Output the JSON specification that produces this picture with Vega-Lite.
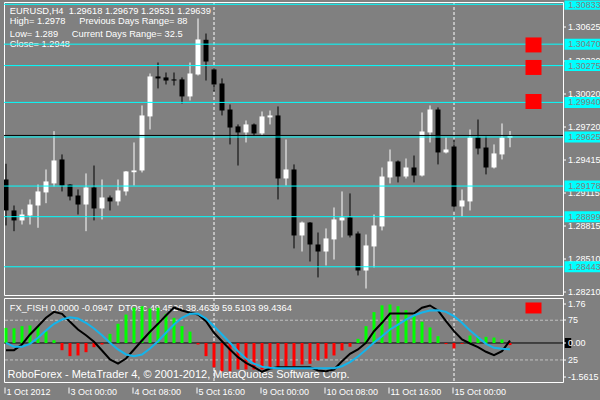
{
 "$schema": "https://vega.github.io/schema/vega-lite/v6.json",
 "background": "#808080",
 "padding": {"left": 1, "top": 0, "right": 0, "bottom": 8},
 "bounds": "flush",
 "spacing": 3,
 "config": {
  "view": {"stroke": "#ffffff", "strokeWidth": 1, "fill": "#808080"},
  "scale": {"continuousPadding": 0},
  "axis": {"labelFont": "Liberation Sans", "labelFontSize": 9, "labelColor": "#ffffff", "tickColor": "#ffffff", "tickWidth": 1, "domain": false, "grid": false, "labelOverlap": false, "labelFlush": false, "labelBound": false, "translate": 0},
  "text": {"font": "Liberation Sans", "fontSize": 9.3, "color": "#ffffff", "align": "left", "baseline": "middle"}
 },
 "datasets": {
  "candles": [
   {"i":0,"o":1.29238,"h":1.29381,"l":1.28819,"c":1.28956,"dir":"down"},
   {"i":1,"o":1.28956,"h":1.29001,"l":1.28767,"c":1.28865,"dir":"down"},
   {"i":2,"o":1.28865,"h":1.28965,"l":1.28828,"c":1.28919,"dir":"up"},
   {"i":3,"o":1.28910,"h":1.29056,"l":1.28828,"c":1.29010,"dir":"up"},
   {"i":4,"o":1.29001,"h":1.29192,"l":1.28798,"c":1.29129,"dir":"up"},
   {"i":5,"o":1.29120,"h":1.29329,"l":1.29022,"c":1.29220,"dir":"up"},
   {"i":6,"o":1.29202,"h":1.29678,"l":1.29174,"c":1.29411,"dir":"up"},
   {"i":7,"o":1.29420,"h":1.29466,"l":1.29129,"c":1.29183,"dir":"down"},
   {"i":8,"o":1.29192,"h":1.29195,"l":1.29047,"c":1.29083,"dir":"down"},
   {"i":9,"o":1.29092,"h":1.29147,"l":1.28919,"c":1.29010,"dir":"down"},
   {"i":10,"o":1.29010,"h":1.29293,"l":1.28767,"c":1.29165,"dir":"up"},
   {"i":11,"o":1.29165,"h":1.29365,"l":1.28865,"c":1.28974,"dir":"down"},
   {"i":12,"o":1.28974,"h":1.29238,"l":1.28874,"c":1.29074,"dir":"up"},
   {"i":13,"o":1.29074,"h":1.29092,"l":1.28956,"c":1.29038,"dir":"down"},
   {"i":14,"o":1.29038,"h":1.29238,"l":1.29001,"c":1.29138,"dir":"up"},
   {"i":15,"o":1.29129,"h":1.29315,"l":1.29092,"c":1.29311,"dir":"up"},
   {"i":16,"o":1.29304,"h":1.29575,"l":1.29183,"c":1.29320,"dir":"up"},
   {"i":17,"o":1.29320,"h":1.29912,"l":1.29302,"c":1.29821,"dir":"up"},
   {"i":18,"o":1.29812,"h":1.30203,"l":1.29693,"c":1.30176,"dir":"up"},
   {"i":19,"o":1.30176,"h":1.30303,"l":1.30067,"c":1.30158,"dir":"down"},
   {"i":20,"o":1.30167,"h":1.30212,"l":1.30103,"c":1.30139,"dir":"down"},
   {"i":21,"o":1.30149,"h":1.30212,"l":1.30094,"c":1.30139,"dir":"down"},
   {"i":22,"o":1.30149,"h":1.30167,"l":1.29930,"c":1.29994,"dir":"down"},
   {"i":23,"o":1.29994,"h":1.30303,"l":1.29957,"c":1.30203,"dir":"up"},
   {"i":24,"o":1.30194,"h":1.30704,"l":1.30185,"c":1.30513,"dir":"up"},
   {"i":25,"o":1.30510,"h":1.30567,"l":1.30139,"c":1.30312,"dir":"down"},
   {"i":26,"o":1.30240,"h":1.30258,"l":1.30039,"c":1.30103,"dir":"down"},
   {"i":27,"o":1.30112,"h":1.30158,"l":1.29821,"c":1.29866,"dir":"down"},
   {"i":28,"o":1.29875,"h":1.29921,"l":1.29557,"c":1.29711,"dir":"down"},
   {"i":29,"o":1.29721,"h":1.29739,"l":1.29365,"c":1.29666,"dir":"down"},
   {"i":30,"o":1.29666,"h":1.29775,"l":1.29575,"c":1.29739,"dir":"up"},
   {"i":31,"o":1.29739,"h":1.29748,"l":1.29639,"c":1.29657,"dir":"down"},
   {"i":32,"o":1.29657,"h":1.29857,"l":1.29639,"c":1.29812,"dir":"up"},
   {"i":33,"o":1.29803,"h":1.29866,"l":1.29739,"c":1.29821,"dir":"up"},
   {"i":34,"o":1.29821,"h":1.29903,"l":1.29056,"c":1.29247,"dir":"down"},
   {"i":35,"o":1.29247,"h":1.29602,"l":1.29183,"c":1.29329,"dir":"up"},
   {"i":36,"o":1.29329,"h":1.29375,"l":1.28610,"c":1.28728,"dir":"down"},
   {"i":37,"o":1.28728,"h":1.28855,"l":1.28582,"c":1.28846,"dir":"up"},
   {"i":38,"o":1.28846,"h":1.28850,"l":1.28491,"c":1.28646,"dir":"down"},
   {"i":39,"o":1.28646,"h":1.28755,"l":1.28346,"c":1.28582,"dir":"down"},
   {"i":40,"o":1.28582,"h":1.28792,"l":1.28455,"c":1.28701,"dir":"up"},
   {"i":41,"o":1.28692,"h":1.28983,"l":1.28509,"c":1.28874,"dir":"up"},
   {"i":42,"o":1.28865,"h":1.29129,"l":1.28710,"c":1.28892,"dir":"up"},
   {"i":43,"o":1.28892,"h":1.29111,"l":1.28710,"c":1.28728,"dir":"down"},
   {"i":44,"o":1.28746,"h":1.28764,"l":1.28364,"c":1.28409,"dir":"down"},
   {"i":45,"o":1.28409,"h":1.28737,"l":1.28245,"c":1.28637,"dir":"up"},
   {"i":46,"o":1.28628,"h":1.28919,"l":1.28437,"c":1.28819,"dir":"up"},
   {"i":47,"o":1.28810,"h":1.29347,"l":1.28774,"c":1.29265,"dir":"up"},
   {"i":48,"o":1.29256,"h":1.29511,"l":1.29202,"c":1.29402,"dir":"up"},
   {"i":49,"o":1.29402,"h":1.29411,"l":1.29211,"c":1.29265,"dir":"down"},
   {"i":50,"o":1.29265,"h":1.29429,"l":1.29247,"c":1.29347,"dir":"up"},
   {"i":51,"o":1.29347,"h":1.29456,"l":1.29211,"c":1.29274,"dir":"down"},
   {"i":52,"o":1.29274,"h":1.29848,"l":1.29265,"c":1.29675,"dir":"up"},
   {"i":53,"o":1.29666,"h":1.29912,"l":1.29575,"c":1.29875,"dir":"up"},
   {"i":54,"o":1.29875,"h":1.29894,"l":1.29375,"c":1.29484,"dir":"down"},
   {"i":55,"o":1.29484,"h":1.29620,"l":1.29475,"c":1.29511,"dir":"up"},
   {"i":56,"o":1.29538,"h":1.29602,"l":1.28956,"c":1.28992,"dir":"down"},
   {"i":57,"o":1.28992,"h":1.29147,"l":1.28901,"c":1.29047,"dir":"up"},
   {"i":58,"o":1.29038,"h":1.29693,"l":1.28956,"c":1.29620,"dir":"up"},
   {"i":59,"o":1.29620,"h":1.29784,"l":1.29466,"c":1.29520,"dir":"down"},
   {"i":60,"o":1.29529,"h":1.29630,"l":1.29284,"c":1.29347,"dir":"down"},
   {"i":61,"o":1.29347,"h":1.29557,"l":1.29338,"c":1.29475,"dir":"up"},
   {"i":62,"o":1.29466,"h":1.29748,"l":1.29420,"c":1.29620,"dir":"up"},
   {"i":63,"o":1.29618,"h":1.29679,"l":1.29531,"c":1.29639,"dir":"up"}
  ],
  "osc": [
   {"i":0,"fish":0.69,"main":37.3,"signal":46.6},
   {"i":1,"fish":0.67,"main":37.3,"signal":41.6},
   {"i":2,"fish":0.77,"main":44.5,"signal":41.6},
   {"i":3,"fish":0.80,"main":57.1,"signal":45.3},
   {"i":4,"fish":0.77,"main":67.5,"signal":52.9},
   {"i":5,"fish":0.53,"main":78.1,"signal":62.1},
   {"i":6,"fish":0.13,"main":85.6,"signal":70.5},
   {"i":7,"fish":-0.33,"main":83.1,"signal":75.9},
   {"i":8,"fish":-0.60,"main":73.0,"signal":78.8},
   {"i":9,"fish":-0.57,"main":63.4,"signal":77.2},
   {"i":10,"fish":-0.42,"main":56.2,"signal":71.8},
   {"i":11,"fish":-0.19,"main":47.9,"signal":64.6},
   {"i":12,"fish":-0.07,"main":36.9,"signal":56.2},
   {"i":13,"fish":0.42,"main":25.6,"signal":46.6},
   {"i":14,"fish":0.88,"main":20.5,"signal":38.2},
   {"i":15,"fish":1.30,"main":26.8,"signal":31.9},
   {"i":16,"fish":1.61,"main":38.2,"signal":29.7},
   {"i":17,"fish":1.68,"main":49.5,"signal":31.9},
   {"i":18,"fish":1.58,"main":60.5,"signal":39.4},
   {"i":19,"fish":1.61,"main":70.5,"signal":48.6},
   {"i":20,"fish":1.33,"main":81.0,"signal":59.2},
   {"i":21,"fish":1.15,"main":91.1,"signal":69.6},
   {"i":22,"fish":0.77,"main":87.3,"signal":78.1},
   {"i":23,"fish":0.52,"main":84.4,"signal":83.1},
   {"i":24,"fish":-0.07,"main":82.2,"signal":83.1},
   {"i":25,"fish":-0.60,"main":73.8,"signal":77.2},
   {"i":26,"fish":-1.11,"main":59.2,"signal":67.5},
   {"i":27,"fish":-1.29,"main":48.6,"signal":57.1},
   {"i":28,"fish":-1.29,"main":38.2,"signal":46.6},
   {"i":29,"fish":-1.21,"main":28.5,"signal":36.0},
   {"i":30,"fish":-1.21,"main":21.4,"signal":26.8},
   {"i":31,"fish":-1.21,"main":15.9,"signal":20.2},
   {"i":32,"fish":-1.21,"main":10.1,"signal":16.4},
   {"i":33,"fish":-1.13,"main":14.2,"signal":15.1},
   {"i":34,"fish":-1.11,"main":15.9,"signal":14.6},
   {"i":35,"fish":-1.06,"main":15.9,"signal":14.6},
   {"i":36,"fish":-1.06,"main":15.9,"signal":14.6},
   {"i":37,"fish":-0.98,"main":15.9,"signal":14.6},
   {"i":38,"fish":-0.95,"main":15.9,"signal":14.6},
   {"i":39,"fish":-0.80,"main":11.7,"signal":14.6},
   {"i":40,"fish":-0.71,"main":10.8,"signal":14.6},
   {"i":41,"fish":-0.57,"main":13.0,"signal":14.6},
   {"i":42,"fish":-0.34,"main":23.4,"signal":17.1},
   {"i":43,"fish":-0.17,"main":32.7,"signal":22.2},
   {"i":44,"fish":0.19,"main":38.2,"signal":29.3},
   {"i":45,"fish":0.77,"main":46.6,"signal":37.8},
   {"i":46,"fish":1.41,"main":61.2,"signal":47.0},
   {"i":47,"fish":1.72,"main":71.8,"signal":54.9},
   {"i":48,"fish":1.76,"main":83.5,"signal":63.4},
   {"i":49,"fish":1.68,"main":83.5,"signal":69.6},
   {"i":50,"fish":1.50,"main":83.5,"signal":75.9},
   {"i":51,"fish":1.27,"main":83.5,"signal":81.0},
   {"i":52,"fish":0.97,"main":90.7,"signal":84.8},
   {"i":53,"fish":0.71,"main":93.6,"signal":87.3},
   {"i":54,"fish":0.31,"main":87.3,"signal":87.7},
   {"i":55,"fish":-0.05,"main":73.8,"signal":85.6},
   {"i":56,"fish":-0.25,"main":61.2,"signal":80.1},
   {"i":57,"fish":-0.04,"main":50.8,"signal":71.8},
   {"i":58,"fish":0.34,"main":45.7,"signal":62.1},
   {"i":59,"fish":0.31,"main":41.1,"signal":53.7},
   {"i":60,"fish":0.28,"main":35.3,"signal":45.3},
   {"i":61,"fish":0.25,"main":31.0,"signal":40.3},
   {"i":62,"fish":0.16,"main":36.0,"signal":39.0},
   {"i":63,"fish":-0.0947,"main":49.4526,"signal":38.4639}
  ],
  "levels": [{"price":1.30833},{"price":1.30470},{"price":1.30275},{"price":1.29940},{"price":1.29625},{"price":1.29178},{"price":1.28899},{"price":1.28443}],
  "signals": [{"price":1.30463},{"price":1.30258},{"price":1.29948}],
  "quote": [{"bid":1.29639}],
  "separators": [{"i":26},{"i":56}]
 },
 "vconcat": [
  {
   "width": 559,
   "height": 293,
   "layer": [
    {"data": {"name": "separators"}, "mark": {"type": "rule", "color": "#ffffff", "strokeDash": [3, 2]},
     "encoding": {"x": {"field": "i", "type": "quantitative", "scale": {"domain": [-0.25, 69.625], "nice": false, "zero": false, "padding": 0}, "axis": null}}},
    {"data": {"name": "candles"}, "mark": {"type": "rule", "strokeWidth": 1, "clip": true},
     "encoding": {
      "x": {"field": "i", "type": "quantitative", "axis": null},
      "y": {"field": "l", "type": "quantitative", "scale": {"domain": [1.28186, 1.30854], "nice": false, "zero": false, "clamp": true, "padding": 0},
            "axis": {"orient": "right", "title": null, "values": [1.30625, 1.3032, 1.3002, 1.2972, 1.29415, 1.29115, 1.28815, 1.2851, 1.2821], "format": ".5f", "tickSize": 3, "labelPadding": 2}},
      "y2": {"field": "h"},
      "color": {"field": "dir", "type": "nominal", "scale": {"domain": ["up", "down"], "range": ["#ffffff", "#000000"]}, "legend": null}}},
    {"data": {"name": "candles"}, "mark": {"type": "bar", "width": 5, "clip": true},
     "encoding": {
      "x": {"field": "i", "type": "quantitative", "axis": null},
      "y": {"field": "o", "type": "quantitative", "axis": {"orient": "right", "title": null, "values": [1.30625, 1.3032, 1.3002, 1.2972, 1.29415, 1.29115, 1.28815, 1.2851, 1.2821], "format": ".5f", "tickSize": 3, "labelPadding": 2}},
      "y2": {"field": "c"},
      "color": {"field": "dir", "type": "nominal", "legend": null}}},
    {"data": {"values": [{}]}, "mark": {"type": "text", "text": "EURUSD,H4\u00a0\u00a01.29618 1.29679 1.29531 1.29639"},
     "encoding": {"x": {"datum": 0.475, "type": "quantitative", "axis": null}, "y": {"datum": 1.30768, "type": "quantitative", "axis": {"orient": "right", "title": null, "values": [1.30625, 1.3032, 1.3002, 1.2972, 1.29415, 1.29115, 1.28815, 1.2851, 1.2821], "format": ".5f", "tickSize": 3, "labelPadding": 2}}}},
    {"data": {"values": [{}]}, "mark": {"type": "text", "text": "High= 1.2978"},
     "encoding": {"x": {"datum": 0.475, "type": "quantitative", "axis": null}, "y": {"datum": 1.30679, "type": "quantitative", "axis": {"orient": "right", "title": null, "values": [1.30625, 1.3032, 1.3002, 1.2972, 1.29415, 1.29115, 1.28815, 1.2851, 1.2821], "format": ".5f", "tickSize": 3, "labelPadding": 2}}}},
    {"data": {"values": [{}]}, "mark": {"type": "text", "text": "Low= 1.289"},
     "encoding": {"x": {"datum": 0.475, "type": "quantitative", "axis": null}, "y": {"datum": 1.30567, "type": "quantitative", "axis": {"orient": "right", "title": null, "values": [1.30625, 1.3032, 1.3002, 1.2972, 1.29415, 1.29115, 1.28815, 1.2851, 1.2821], "format": ".5f", "tickSize": 3, "labelPadding": 2}}}},
    {"data": {"values": [{}]}, "mark": {"type": "text", "text": "Close= 1.2948"},
     "encoding": {"x": {"datum": 0.475, "type": "quantitative", "axis": null}, "y": {"datum": 1.3047, "type": "quantitative", "axis": {"orient": "right", "title": null, "values": [1.30625, 1.3032, 1.3002, 1.2972, 1.29415, 1.29115, 1.28815, 1.2851, 1.2821], "format": ".5f", "tickSize": 3, "labelPadding": 2}}}},
    {"data": {"values": [{}]}, "mark": {"type": "text", "text": "Previous Days Range= 88"},
     "encoding": {"x": {"datum": 9.15, "type": "quantitative", "axis": null}, "y": {"datum": 1.30679, "type": "quantitative", "axis": {"orient": "right", "title": null, "values": [1.30625, 1.3032, 1.3002, 1.2972, 1.29415, 1.29115, 1.28815, 1.2851, 1.2821], "format": ".5f", "tickSize": 3, "labelPadding": 2}}}},
    {"data": {"values": [{}]}, "mark": {"type": "text", "text": "Current Days Range= 32.5"},
     "encoding": {"x": {"datum": 8.225, "type": "quantitative", "axis": null}, "y": {"datum": 1.30567, "type": "quantitative", "axis": {"orient": "right", "title": null, "values": [1.30625, 1.3032, 1.3002, 1.2972, 1.29415, 1.29115, 1.28815, 1.2851, 1.2821], "format": ".5f", "tickSize": 3, "labelPadding": 2}}}},
    {"data": {"name": "levels"}, "mark": {"type": "rule", "color": "#00ffff", "strokeWidth": 1},
     "encoding": {"y": {"field": "price", "type": "quantitative", "axis": {"orient": "right", "title": null, "values": [1.30625, 1.3032, 1.3002, 1.2972, 1.29415, 1.29115, 1.28815, 1.2851, 1.2821], "format": ".5f", "tickSize": 3, "labelPadding": 2}}}},
    {"data": {"name": "quote"}, "mark": {"type": "rule", "color": "#000000", "strokeWidth": 1},
     "encoding": {"y": {"field": "bid", "type": "quantitative", "axis": {"orient": "right", "title": null, "values": [1.30625, 1.3032, 1.3002, 1.2972, 1.29415, 1.29115, 1.28815, 1.2851, 1.2821], "format": ".5f", "tickSize": 3, "labelPadding": 2}}}},
    {"data": {"name": "signals"}, "mark": {"type": "point", "shape": "M-1,-0.9375H1V0.9375H-1Z", "size": 256, "filled": true, "color": "#ff0000", "opacity": 1, "strokeWidth": 0},
     "encoding": {"x": {"datum": 65.9375, "type": "quantitative", "axis": null}, "y": {"field": "price", "type": "quantitative", "axis": {"orient": "right", "title": null, "values": [1.30625, 1.3032, 1.3002, 1.2972, 1.29415, 1.29115, 1.28815, 1.2851, 1.2821], "format": ".5f", "tickSize": 3, "labelPadding": 2}}}},
    {"data": {"name": "levels"}, "transform": [{"filter": "datum.price < 1.308"}],
     "mark": {"type": "point", "shape": "M-1,-0.275H1V0.275H-1Z", "size": 1600, "filled": true, "color": "#00ffff", "opacity": 1, "strokeWidth": 0},
     "encoding": {"x": {"datum": 72.3125, "type": "quantitative", "axis": null}, "y": {"field": "price", "type": "quantitative", "axis": {"orient": "right", "title": null, "values": [1.30625, 1.3032, 1.3002, 1.2972, 1.29415, 1.29115, 1.28815, 1.2851, 1.2821], "format": ".5f", "tickSize": 3, "labelPadding": 2}}}},
    {"data": {"name": "levels"}, "transform": [{"filter": "datum.price >= 1.308"}],
     "mark": {"type": "point", "shape": "M-1,-0.19H1V0.275H-1Z", "size": 1600, "filled": true, "color": "#00ffff", "opacity": 1, "strokeWidth": 0},
     "encoding": {"x": {"datum": 72.3125, "type": "quantitative", "axis": null}, "y": {"field": "price", "type": "quantitative", "axis": {"orient": "right", "title": null, "values": [1.30625, 1.3032, 1.3002, 1.2972, 1.29415, 1.29115, 1.28815, 1.2851, 1.2821], "format": ".5f", "tickSize": 3, "labelPadding": 2}}}},
    {"data": {"name": "levels"}, "transform": [{"filter": "datum.price < 1.308"}],
     "mark": {"type": "text", "color": "#808080", "fontSize": 9},
     "encoding": {"x": {"datum": 70.275, "type": "quantitative", "axis": null}, "y": {"field": "price", "type": "quantitative", "axis": {"orient": "right", "title": null, "values": [1.30625, 1.3032, 1.3002, 1.2972, 1.29415, 1.29115, 1.28815, 1.2851, 1.2821], "format": ".5f", "tickSize": 3, "labelPadding": 2}}, "text": {"field": "price", "type": "quantitative", "format": ".5f"}}},
    {"data": {"name": "levels"}, "transform": [{"filter": "datum.price >= 1.308"}],
     "mark": {"type": "text", "color": "#808080", "fontSize": 9, "dy": 1},
     "encoding": {"x": {"datum": 70.275, "type": "quantitative", "axis": null}, "y": {"field": "price", "type": "quantitative", "axis": {"orient": "right", "title": null, "values": [1.30625, 1.3032, 1.3002, 1.2972, 1.29415, 1.29115, 1.28815, 1.2851, 1.2821], "format": ".5f", "tickSize": 3, "labelPadding": 2}}, "text": {"field": "price", "type": "quantitative", "format": ".5f"}}}
   ]
  },
  {
   "width": 559,
   "height": 84,
   "resolve": {"scale": {"y": "independent"}, "axis": {"y": "independent"}},
   "layer": [
    {"data": {"values": [{"level": 75}, {"level": 25}]}, "mark": {"type": "rule", "color": "#c0c0c0", "strokeDash": [3, 2]},
     "encoding": {"y": {"field": "level", "type": "quantitative", "scale": {"domain": [-2.77, 103.02], "nice": false, "zero": false}, "axis": null}}},
    {"layer": [
      {"data": {"name": "separators"}, "mark": {"type": "rule", "color": "#ffffff", "strokeDash": [3, 2]},
       "encoding": {"x": {"field": "i", "type": "quantitative", "scale": {"domain": [-0.25, 69.625], "nice": false, "zero": false, "padding": 0},
         "axis": {"orient": "bottom", "title": null, "values": [0, 8, 16, 24, 32, 40, 48, 56], "labelExpr": "['1 Oct 2012','3 Oct 00:00','4 Oct 08:00','5 Oct 16:00','9 Oct 00:00','10 Oct 08:00','11 Oct 16:00','15 Oct 00:00'][round(datum.value/8)]", "tickSize": 6, "offset": 5.5, "labelPadding": -6, "labelAlign": "left", "labelBaseline": "top", "tickOffset": -1, "labelOffset": 1.5}}}},
      {"data": {"values": [{}]}, "mark": {"type": "text", "text": "FX_FISH 0.0000 -0.0947\u00a0\u00a0DTOsc 49.4526 38.4639 59.5103 99.4364"},
       "encoding": {
        "x": {"datum": 0.475, "type": "quantitative", "axis": {"orient": "bottom", "title": null, "values": [0, 8, 16, 24, 32, 40, 48, 56], "labelExpr": "['1 Oct 2012','3 Oct 00:00','4 Oct 08:00','5 Oct 16:00','9 Oct 00:00','10 Oct 08:00','11 Oct 16:00','15 Oct 00:00'][round(datum.value/8)]", "tickSize": 6, "offset": 5.5, "labelPadding": -6, "labelAlign": "left", "labelBaseline": "top", "tickOffset": -1, "labelOffset": 1.5}},
        "y": {"datum": 1.608, "type": "quantitative", "scale": {"domain": [-1.782, 2.056], "nice": false, "zero": false, "padding": 0},
              "axis": {"orient": "right", "title": null, "values": [1.76, 0, -1.5615], "labelExpr": "datum.value == 0 ? '0.00' : (datum.value < 0 ? '-1.5615' : '1.76')", "tickSize": 3, "labelPadding": 2, "zindex": 1}}}},
      {"data": {"values": [{}]}, "mark": {"type": "text", "fontSize": 11, "text": "RoboForex - MetaTrader 4, © 2001-2012, MetaQuotes Software Corp."},
       "encoding": {
        "x": {"datum": 0.1875, "type": "quantitative", "axis": {"orient": "bottom", "title": null, "values": [0, 8, 16, 24, 32, 40, 48, 56], "labelExpr": "['1 Oct 2012','3 Oct 00:00','4 Oct 08:00','5 Oct 16:00','9 Oct 00:00','10 Oct 08:00','11 Oct 16:00','15 Oct 00:00'][round(datum.value/8)]", "tickSize": 6, "offset": 5.5, "labelPadding": -6, "labelAlign": "left", "labelBaseline": "top", "tickOffset": -1, "labelOffset": 1.5}},
        "y": {"datum": -1.485, "type": "quantitative", "axis": {"orient": "right", "title": null, "values": [1.76, 0, -1.5615], "labelExpr": "datum.value == 0 ? '0.00' : (datum.value < 0 ? '-1.5615' : '1.76')", "tickSize": 3, "labelPadding": 2, "zindex": 1}}}},
      {"data": {"values": [{}]}, "mark": {"type": "rule", "color": "#000000", "strokeWidth": 1},
       "encoding": {"y": {"datum": 0, "type": "quantitative", "axis": {"orient": "right", "title": null, "values": [1.76, 0, -1.5615], "labelExpr": "datum.value == 0 ? '0.00' : (datum.value < 0 ? '-1.5615' : '1.76')", "tickSize": 3, "labelPadding": 2, "zindex": 1}}}},
      {"data": {"name": "osc"}, "mark": {"type": "bar", "width": 3},
       "encoding": {
        "x": {"field": "i", "type": "quantitative", "axis": {"orient": "bottom", "title": null, "values": [0, 8, 16, 24, 32, 40, 48, 56], "labelExpr": "['1 Oct 2012','3 Oct 00:00','4 Oct 08:00','5 Oct 16:00','9 Oct 00:00','10 Oct 08:00','11 Oct 16:00','15 Oct 00:00'][round(datum.value/8)]", "tickSize": 6, "offset": 5.5, "labelPadding": -6, "labelAlign": "left", "labelBaseline": "top", "tickOffset": -1, "labelOffset": 1.5}},
        "y": {"field": "fish", "type": "quantitative", "axis": {"orient": "right", "title": null, "values": [1.76, 0, -1.5615], "labelExpr": "datum.value == 0 ? '0.00' : (datum.value < 0 ? '-1.5615' : '1.76')", "tickSize": 3, "labelPadding": 2, "zindex": 1}},
        "y2": {"datum": 0},
        "color": {"condition": {"test": "datum.fish >= 0", "value": "#00ff00"}, "value": "#ff0000"}}},
      {"data": {"values": [{}]}, "mark": {"type": "point", "shape": "M-1,-0.6875H1V0.6875H-1Z", "size": 256, "filled": true, "color": "#ff0000", "opacity": 1, "strokeWidth": 0},
       "encoding": {
        "x": {"datum": 65.9375, "type": "quantitative", "axis": {"orient": "bottom", "title": null, "values": [0, 8, 16, 24, 32, 40, 48, 56], "labelExpr": "['1 Oct 2012','3 Oct 00:00','4 Oct 08:00','5 Oct 16:00','9 Oct 00:00','10 Oct 08:00','11 Oct 16:00','15 Oct 00:00'][round(datum.value/8)]", "tickSize": 6, "offset": 5.5, "labelPadding": -6, "labelAlign": "left", "labelBaseline": "top", "tickOffset": -1, "labelOffset": 1.5}},
        "y": {"datum": 1.6, "type": "quantitative", "axis": {"orient": "right", "title": null, "values": [1.76, 0, -1.5615], "labelExpr": "datum.value == 0 ? '0.00' : (datum.value < 0 ? '-1.5615' : '1.76')", "tickSize": 3, "labelPadding": 2, "zindex": 1}}}},
      {"data": {"values": [{}]}, "mark": {"type": "point", "shape": "M-1,-1.5625H1V1.5625H-1Z", "size": 41, "filled": true, "color": "#000000", "opacity": 1, "strokeWidth": 0},
       "encoding": {
        "x": {"datum": 70.25, "type": "quantitative", "axis": {"orient": "bottom", "title": null, "values": [0, 8, 16, 24, 32, 40, 48, 56], "labelExpr": "['1 Oct 2012','3 Oct 00:00','4 Oct 08:00','5 Oct 16:00','9 Oct 00:00','10 Oct 08:00','11 Oct 16:00','15 Oct 00:00'][round(datum.value/8)]", "tickSize": 6, "offset": 5.5, "labelPadding": -6, "labelAlign": "left", "labelBaseline": "top", "tickOffset": -1, "labelOffset": 1.5}},
        "y": {"datum": 0, "type": "quantitative", "axis": {"orient": "right", "title": null, "values": [1.76, 0, -1.5615], "labelExpr": "datum.value == 0 ? '0.00' : (datum.value < 0 ? '-1.5615' : '1.76')", "tickSize": 3, "labelPadding": 2, "zindex": 1}}}}
    ]},
    {"data": {"name": "osc"}, "layer": [
      {"mark": {"type": "line", "color": "#000000", "strokeWidth": 2},
       "encoding": {"x": {"field": "i", "type": "quantitative", "axis": {"orient": "bottom", "title": null, "values": [0, 8, 16, 24, 32, 40, 48, 56], "labelExpr": "['1 Oct 2012','3 Oct 00:00','4 Oct 08:00','5 Oct 16:00','9 Oct 00:00','10 Oct 08:00','11 Oct 16:00','15 Oct 00:00'][round(datum.value/8)]", "tickSize": 6, "offset": 5.5, "labelPadding": -6, "labelAlign": "left", "labelBaseline": "top", "tickOffset": -1, "labelOffset": 1.5}},
                    "y": {"field": "main", "type": "quantitative", "scale": {"domain": [-2.77, 103.02], "nice": false, "zero": false, "padding": 0},
                          "axis": {"orient": "right", "title": null, "values": [75, 25], "tickSize": 3, "labelPadding": 2}}}},
      {"mark": {"type": "line", "color": "#14b4eb", "strokeWidth": 2},
       "encoding": {"x": {"field": "i", "type": "quantitative", "axis": {"orient": "bottom", "title": null, "values": [0, 8, 16, 24, 32, 40, 48, 56], "labelExpr": "['1 Oct 2012','3 Oct 00:00','4 Oct 08:00','5 Oct 16:00','9 Oct 00:00','10 Oct 08:00','11 Oct 16:00','15 Oct 00:00'][round(datum.value/8)]", "tickSize": 6, "offset": 5.5, "labelPadding": -6, "labelAlign": "left", "labelBaseline": "top", "tickOffset": -1, "labelOffset": 1.5}},
                    "y": {"field": "signal", "type": "quantitative", "axis": {"orient": "right", "title": null, "values": [75, 25], "tickSize": 3, "labelPadding": 2}}}}
    ]}
   ]
  }
 ]
}
